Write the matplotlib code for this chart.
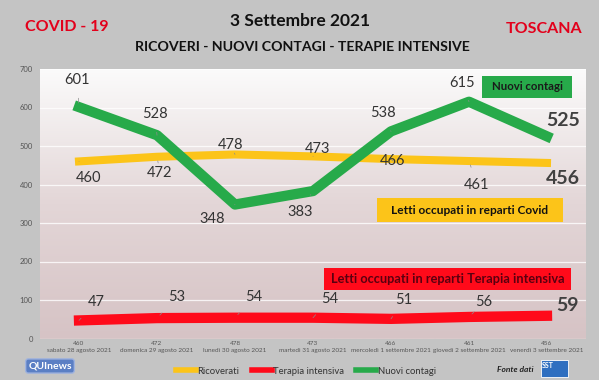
import matplotlib
matplotlib.use("Agg")
import matplotlib.pyplot as plt
import matplotlib.patches as patches
from matplotlib.lines import Line2D
from matplotlib.colors import LinearSegmentedColormap
import numpy as np

# ============ DATA ==============
dates = ["sabato 28 agosto 2021", "domenica 29 agosto 2021", "lunedì 30 agosto 2021",
         "martedì 31 agosto 2021", "mercoledì 1 settembre 2021", "giovedì 2 settembre 2021",
         "venerdì 3 settembre 2021"]
ricoverati = [460, 472, 478, 473, 466, 461, 456]
terapia_intensiva = [47, 53, 54, 54, 51, 56, 59]
nuovi_contagi = [601, 528, 348, 383, 538, 615, 525]

# label offsets in pixels (dx right, dy up) from each point
off_green = [(-2, 27), (-2, 21), (-23, -14), (-13, -21), (-8, 18), (-7, 19), (16, 16)]
off_yellow = [(10, -17), (3, -16), (-4, 9), (5, 7), (2, -2), (8, -24), (16, -16)]
off_red = [(17, 18), (20, 21), (19, 21), (17, 19), (13, 19), (15, 15), (20, 10)]

GREEN = "#27aa4a"
YELLOW = "#fcc419"
RED = "#ff0a1a"
BG = "#c4c4c4"
FONT = "Lato"

W, H = 599, 380
fig = plt.figure(figsize=(W / 100, H / 100), dpi=100)
fig.patch.set_facecolor(BG)
plt.rcParams['font.family'] = [FONT, 'DejaVu Sans']

def fx(px):
    return px / W

def fy(py):
    return 1 - py / H

ax = fig.add_axes([fx(40), fy(338.5), fx(586) - fx(40), fy(69) - fy(338.5)])
ax.set_xlim(-0.5, 6.5)
ax.set_ylim(0, 700)

# gradient background of plot area
cmap = LinearSegmentedColormap.from_list("bg", ["#d6c3c5", "#e3d6d7", "#fbfbfb"])
grad = np.linspace(0, 1, 256).reshape(-1, 1)
ax.imshow(grad, extent=[-0.5, 6.5, 0, 700], aspect='auto', origin='lower',
          cmap=cmap, zorder=0)

for s in ax.spines.values():
    s.set_visible(False)
ax.set_yticks(range(0, 701, 100))
ax.grid(axis='y', color='white', lw=0.9, alpha=0.8, zorder=1)
ax.tick_params(axis='y', length=0, pad=5, labelsize=5.5, labelcolor='#555555')
ax.set_xticks(range(len(dates)))
ax.set_xticklabels([f"{v}\n{d}" for v, d in zip(ricoverati, dates)],
                   fontsize=4.6, color='#555555', linespacing=1.45)
ax.tick_params(axis='x', length=0, pad=2)

x = np.arange(len(dates))
ax.plot(x, ricoverati, color=YELLOW, lw=5.8, solid_capstyle='projecting', zorder=3)
ax.plot(x, terapia_intensiva, color=RED, lw=7.4, solid_capstyle='projecting', zorder=3)
ax.plot(x, nuovi_contagi, color=GREEN, lw=7.4, solid_capstyle='projecting', zorder=4)


def labels(values, offsets):
    for i, (v, (dx, dy)) in enumerate(zip(values, offsets)):
        last = i == len(values) - 1
        if last:
            ax.annotate(str(v), (i, v), xytext=(dx * 0.72, dy * 0.72),
                        textcoords='offset points', ha='center', va='center',
                        fontsize=14, fontweight='bold', color='#404040', zorder=6)
        else:
            ax.annotate(str(v), (i, v), xytext=(dx * 0.72, dy * 0.72),
                        textcoords='offset points', ha='center', va='center',
                        fontsize=10.5, color='#333333', zorder=6,
                        arrowprops=dict(arrowstyle='-', color='#8c8c8c', lw=0.5,
                                        shrinkA=6, shrinkB=3))


labels(nuovi_contagi, off_green)
labels(ricoverati, off_yellow)
labels(terapia_intensiva, off_red)


def box(x0, y0, x1, y1, face, text, tcolor, size):
    fig.patches.append(patches.Rectangle((fx(x0), fy(y1)), fx(x1) - fx(x0), fy(y0) - fy(y1),
                                         transform=fig.transFigure, facecolor=face,
                                         edgecolor='none', zorder=5))
    fig.text(fx((x0 + x1) / 2), fy((y0 + y1) / 2), text, ha='center', va='center',
             fontsize=size, fontweight='bold', color=tcolor, zorder=6)


box(482, 76, 572, 98, GREEN, "Nuovi contagi", "#1a1a1a", 8.2)
box(377, 198, 563, 222, YELLOW, "Letti occupati in reparti Covid", "#111111", 8.6)
box(324, 268, 571, 290, RED, "Letti occupati in reparti Terapia intensiva", "#5a0010", 9.2)

# titles
fig.text(fx(67), fy(27), "COVID - 19", ha='center', va='center', fontsize=11.5,
         fontweight='bold', color='#e3001b')
fig.text(fx(544), fy(29), "TOSCANA", ha='center', va='center', fontsize=11.5,
         fontweight='bold', color='#e3001b')
fig.text(fx(300), fy(21), "3 Settembre 2021", ha='center', va='center', fontsize=12.5,
         fontweight='bold', color='#111111')
fig.text(fx(302), fy(47), "RICOVERI - NUOVI CONTAGI - TERAPIE INTENSIVE", ha='center',
         va='center', fontsize=10.2, fontweight='bold', color='#111111')

# legend
handles = [Line2D([], [], color=YELLOW, lw=4), Line2D([], [], color=RED, lw=4),
           Line2D([], [], color=GREEN, lw=4)]
fig.legend(handles, ["Ricoverati", "Terapia intensiva", "Nuovi contagi"],
           loc='center', bbox_to_anchor=(fx(306), fy(371)), ncol=3, frameon=False,
           fontsize=6.8, handlelength=2.1, handletextpad=0.15, columnspacing=1.3,
           labelcolor='#333333')

# logos
fig.text(fx(50), fy(366), "QUInews", ha='center', va='center', fontsize=7.5,
         fontweight='bold', color='white',
         bbox=dict(boxstyle='round,pad=0.25', facecolor='#5b7fc4', edgecolor='#9fb3de'))
fig.text(fx(515), fy(369), "Fonte dati", ha='center', va='center', fontsize=6,
         fontweight='bold', style='italic', color='#222222')
fig.patches.append(patches.Rectangle((fx(541), fy(377)), fx(27), fy(0) - fy(17),
                                     transform=fig.transFigure, facecolor='#2f6fc0',
                                     edgecolor='white', lw=0.6))
fig.text(fx(548), fy(365), "SST", ha='center', va='center', fontsize=5,
         fontweight='bold', color='white')

fig.savefig("out.png", dpi=100, facecolor=fig.get_facecolor())
